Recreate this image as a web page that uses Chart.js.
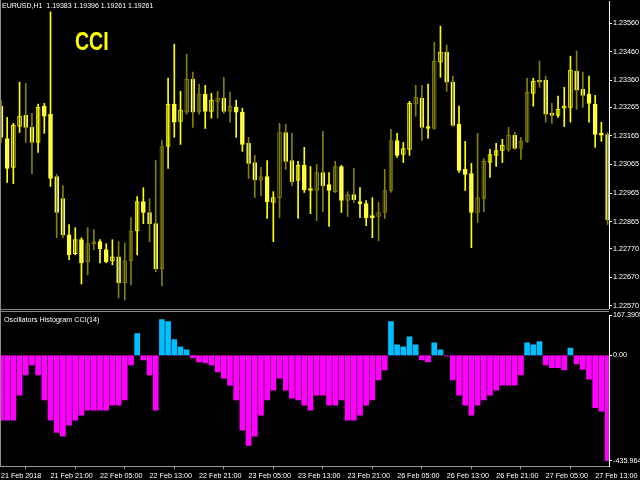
<!DOCTYPE html>
<html><head><meta charset="utf-8">
<script src="https://cdn.jsdelivr.net/npm/chart.js@4.4.1/dist/chart.umd.min.js"></script>
<style>
html,body{margin:0;padding:0;background:#000;width:640px;height:480px;overflow:hidden;position:relative;}
canvas{position:absolute;left:0;}
#c1{top:0;}
#c2{top:311px;}
.t{position:absolute;color:#fff;font-family:"Liberation Sans",Arial,sans-serif;font-size:7px;white-space:pre;line-height:1;}
.ln{position:absolute;background:#8c8c8c;}
</style></head><body>
<canvas id="c1" width="640" height="309"></canvas>
<canvas id="c2" width="640" height="171"></canvas>
<div class="ln" style="left:0;top:309px;width:609px;height:1px;"></div>
<div class="ln" style="left:0;top:311px;width:609px;height:1px;"></div>
<div class="ln" style="left:0;top:0;width:1px;height:467px;"></div>
<div class="t" style="left:2px;top:2px;">EURUSD,H1  1.19383 1.19396 1.19261 1.19261</div>
<div class="t" style="left:75px;top:29px;font-size:25px;font-weight:bold;color:#ffff00;transform:scaleX(0.78);transform-origin:left top;">CCI</div>
<div class="t" style="left:4px;top:316px;font-size:7.2px;">Oscillators Histogram CCI(14)</div>
<script>
// ---------------- DATA ----------------
const timeLabels = ["21 Feb 2018","21 Feb 21:00","22 Feb 05:00","22 Feb 13:00","22 Feb 21:00","23 Feb 05:00","23 Feb 13:00","23 Feb 21:00","26 Feb 05:00","26 Feb 13:00","26 Feb 21:00","27 Feb 05:00","27 Feb 13:00"];
const priceTicks = [1.23560,1.23460,1.23360,1.23265,1.23165,1.23065,1.22965,1.22865,1.22770,1.22670,1.22570];
const histTicks = [167.3905, 0, -435.964];
const histTickLabels = ["167.3905","0.00","-435.964"];

const opens = [1.23269,1.23156,1.23055,1.23198,1.23237,1.23195,1.23142,1.23269,1.23241,1.23023,
1.22946,1.22819,1.22753,1.22802,1.22725,1.22788,1.22795,1.22767,1.22728,1.22742,
1.22651,1.22728,1.22833,1.22935,1.22897,1.22858,1.22700,1.23128,1.23276,1.23216,
1.23248,1.23363,1.23248,1.23311,1.23251,1.23286,1.23297,1.23251,1.23265,1.23248,
1.23139,1.23072,1.23009,1.23023,1.22932,1.22949,1.23177,1.23079,1.23009,1.23062,
1.22981,1.22974,1.23037,1.22995,1.22970,1.23058,1.22939,1.22960,1.22935,1.22928,
1.22883,1.22883,1.22897,1.22974,1.23149,1.23100,1.23118,1.23276,1.23297,1.23195,
1.23191,1.23423,1.23458,1.23353,1.23206,1.23048,1.23033,1.22897,1.22946,1.23072,
1.23097,1.23114,1.23118,1.23167,1.23121,1.23146,1.23314,1.23356,1.23360,1.23244,
1.23237,1.23262,1.23265,1.23392,1.23328,1.23311,1.23276,1.23174,1.23170];
const highs = [1.23290,1.23230,1.23209,1.23353,1.23349,1.23244,1.23276,1.23279,1.23599,1.23030,
1.22991,1.22855,1.22844,1.22809,1.22844,1.22837,1.22802,1.22788,1.22802,1.22795,
1.22791,1.22879,1.22953,1.22984,1.22946,1.23079,1.23149,1.23367,1.23486,1.23321,
1.23451,1.23388,1.23346,1.23342,1.23314,1.23321,1.23370,1.23318,1.23290,1.23262,
1.23160,1.23097,1.23055,1.23079,1.22970,1.23209,1.23206,1.23174,1.23076,1.23125,
1.23058,1.23065,1.23181,1.23037,1.23076,1.23062,1.22970,1.23051,1.22984,1.22939,
1.22949,1.22932,1.23048,1.23188,1.23174,1.23142,1.23286,1.23342,1.23342,1.23346,
1.23493,1.23549,1.23483,1.23374,1.23269,1.23146,1.23069,1.23174,1.23086,1.23118,
1.23139,1.23153,1.23195,1.23177,1.23160,1.23367,1.23367,1.23427,1.23374,1.23279,
1.23304,1.23335,1.23444,1.23462,1.23388,1.23374,1.23307,1.23213,1.23177];
const lows = [1.23142,1.23002,1.22998,1.23177,1.23142,1.23033,1.23107,1.23174,1.22988,1.22809,
1.22809,1.22732,1.22749,1.22647,1.22679,1.22767,1.22721,1.22721,1.22714,1.22598,
1.22591,1.22644,1.22749,1.22858,1.22795,1.22690,1.22640,1.23051,1.23160,1.23135,
1.23241,1.23195,1.23241,1.23191,1.23227,1.23227,1.23244,1.23213,1.23160,1.23111,
1.23016,1.22949,1.22956,1.22876,1.22795,1.22879,1.23048,1.22991,1.22876,1.22967,
1.22893,1.22869,1.22900,1.22848,1.22967,1.22897,1.22883,1.22932,1.22879,1.22851,
1.22809,1.22798,1.22876,1.22967,1.23090,1.23072,1.23097,1.23234,1.23149,1.23156,
1.23188,1.23370,1.23321,1.23198,1.23037,1.22974,1.22774,1.22862,1.22900,1.23020,
1.23058,1.23072,1.23111,1.23118,1.23083,1.23142,1.23269,1.23335,1.23213,1.23209,
1.23230,1.23198,1.23213,1.23258,1.23265,1.23213,1.23125,1.23146,1.22855];
const closes = [1.23160,1.23051,1.23202,1.23234,1.23195,1.23142,1.23265,1.23234,1.23016,1.22897,
1.22819,1.22749,1.22802,1.22721,1.22788,1.22795,1.22770,1.22725,1.22742,1.22651,
1.22728,1.22833,1.22935,1.22897,1.22858,1.22700,1.23128,1.23276,1.23213,1.23255,
1.23363,1.23248,1.23311,1.23251,1.23290,1.23297,1.23251,1.23269,1.23248,1.23135,
1.23069,1.23012,1.23023,1.22935,1.22949,1.23177,1.23076,1.23005,1.23062,1.22977,
1.22974,1.23037,1.22991,1.22974,1.23058,1.22939,1.22960,1.22942,1.22928,1.22879,
1.22879,1.22897,1.22974,1.23149,1.23097,1.23121,1.23279,1.23300,1.23195,1.23191,
1.23427,1.23458,1.23353,1.23202,1.23044,1.23030,1.22897,1.22949,1.23076,1.23100,
1.23114,1.23132,1.23167,1.23121,1.23146,1.23318,1.23356,1.23353,1.23241,1.23237,
1.23258,1.23265,1.23395,1.23325,1.23307,1.23279,1.23170,1.23168,1.22872];
const cciHist = [-269,-269,-269,-165,-81,-40,-81,-185,-269,-319,
-335,-289,-269,-248,-227,-227,-227,-227,-206,-206,
-185,-40,90,-19,-81,-227,148,140,65,35,
23,-10,-27,-31,-40,-69,-94,-123,-185,-310,
-373,-335,-248,-185,-144,-94,-144,-177,-185,-206,
-227,-165,-165,-206,-206,-185,-269,-269,-248,-206,
-185,-102,-60,140,44,35,77,44,-19,-27,
52,23,-2,-102,-165,-206,-248,-206,-185,-165,
-144,-123,-123,-123,-81,52,44,57,-40,-51,
-51,-60,30,-35,-58,-99,-217,-231,-435.964];

// ---------------- STYLE ----------------
const YEL = '#ffff00', OLV = '#80800a', CYAN = '#00bfff', MAG = '#ff00ff';
const wickTone = ("OYYYOOYYYO"+"OYYYOOYYYO"+"OOYYOOOYYY"+"OOOYYOOOYY"+"OOOYYOOOYY"+
                  "YOOYOYOOYY"+"YOOOYYYOOY"+"OYOOYYYOOY"+"YYOOOOYOOO"+"YYYOOYYYO").split('');
const FONT = {family:'"Liberation Sans", Arial, sans-serif', size:7.2};
const XMIN = -0.16, XMAX = 98.23;
const toneColor = i => wickTone[i] === 'Y' ? YEL : OLV;

function fixWidth(scale){ scale.width = 31; scale.paddingTop = 0; scale.paddingBottom = 0; }

const idx = opens.map((_, i) => i);

new Chart(document.getElementById('c1'), {
  type: 'bar',
  data: {
    datasets: [
      {
        label: 'wick',
        data: idx.map(i => ({x: i, y: [lows[i], highs[i]]})),
        barThickness: 1,
        grouped: false,
        backgroundColor: idx.map(toneColor),
        borderWidth: 0
      },
      {
        label: 'body',
        data: idx.map(i => ({x: i, y: [Math.min(opens[i], closes[i]), Math.max(opens[i], closes[i])]})),
        barThickness: 4,
        grouped: false,
        minBarLength: 2,
        backgroundColor: idx.map(i => closes[i] < opens[i] ? '#ffffff' : '#000000'),
        borderColor: idx.map(i => closes[i] < opens[i] ? YEL : toneColor(i)),
        borderWidth: 1,
        borderSkipped: false
      }
    ]
  },
  options: {
    responsive: false, animation: false, devicePixelRatio: 1,
    layout: {padding: {top: 1, bottom: 1, left: 0, right: 0}},
    plugins: {legend: {display: false}, tooltip: {enabled: false}},
    scales: {
      x: {type: 'linear', min: XMIN, max: XMAX, display: false, offset: false},
      y: {
        position: 'right', min: 1.22563, max: 1.23637,
        afterBuildTicks: s => { s.ticks = priceTicks.map(v => ({value: v})); },
        afterFit: fixWidth,
        ticks: {color: '#ffffff', font: FONT, padding: 1, callback: v => v.toFixed(5)},
        grid: {drawOnChartArea: false, drawTicks: true, tickLength: 3, color: '#ffffff'},
        border: {color: '#ffffff'}
      }
    }
  }
});

const zeroLine = {
  id: 'zeroLine',
  beforeDatasetsDraw(chart) {
    const {ctx, chartArea: a, scales: {y}} = chart;
    const py = Math.round(y.getPixelForValue(0)) + 0.5;
    ctx.save();
    ctx.strokeStyle = '#a000a0';
    ctx.lineWidth = 1;
    ctx.setLineDash([1, 2]);
    ctx.beginPath(); ctx.moveTo(a.left, py); ctx.lineTo(a.right, py); ctx.stroke();
    ctx.restore();
  }
};

new Chart(document.getElementById('c2'), {
  type: 'bar',
  data: {
    datasets: [{
      label: 'CCI(14)',
      data: idx.map(i => ({x: i, y: cciHist[i]})),
      barThickness: 5,
      backgroundColor: cciHist.map(v => v >= 0 ? CYAN : MAG),
      borderWidth: 0
    }]
  },
  options: {
    responsive: false, animation: false, devicePixelRatio: 1,
    layout: {padding: {top: 4, bottom: 0, left: 0, right: 0}},
    plugins: {legend: {display: false}, tooltip: {enabled: false}},
    scales: {
      x: {
        type: 'linear', min: XMIN, max: XMAX, offset: false,
        afterBuildTicks: s => { s.ticks = timeLabels.map((_, k) => ({value: k * 8})); },
        afterFit: s => { s.paddingLeft = 0; s.paddingRight = 0; },
        ticks: {color: '#ffffff', font: FONT, padding: 2, align: 'start', maxRotation: 0, minRotation: 0, autoSkip: false,
                callback: (v, k) => timeLabels[k]},
        grid: {drawOnChartArea: false, drawTicks: true, tickLength: 3, color: '#9a9a9a'},
        border: {color: '#9a9a9a'}
      },
      y: {
        position: 'right', min: -460, max: 167.3905,
        afterBuildTicks: s => { s.ticks = histTicks.map(v => ({value: v})); },
        afterFit: fixWidth,
        ticks: {color: '#ffffff', font: FONT, padding: 1, callback: (v, k) => histTickLabels[k]},
        grid: {drawOnChartArea: false, drawTicks: true, tickLength: 3, color: '#ffffff'},
        border: {color: '#ffffff'}
      }
    }
  },
  plugins: [zeroLine]
});
</script>
</body></html>
